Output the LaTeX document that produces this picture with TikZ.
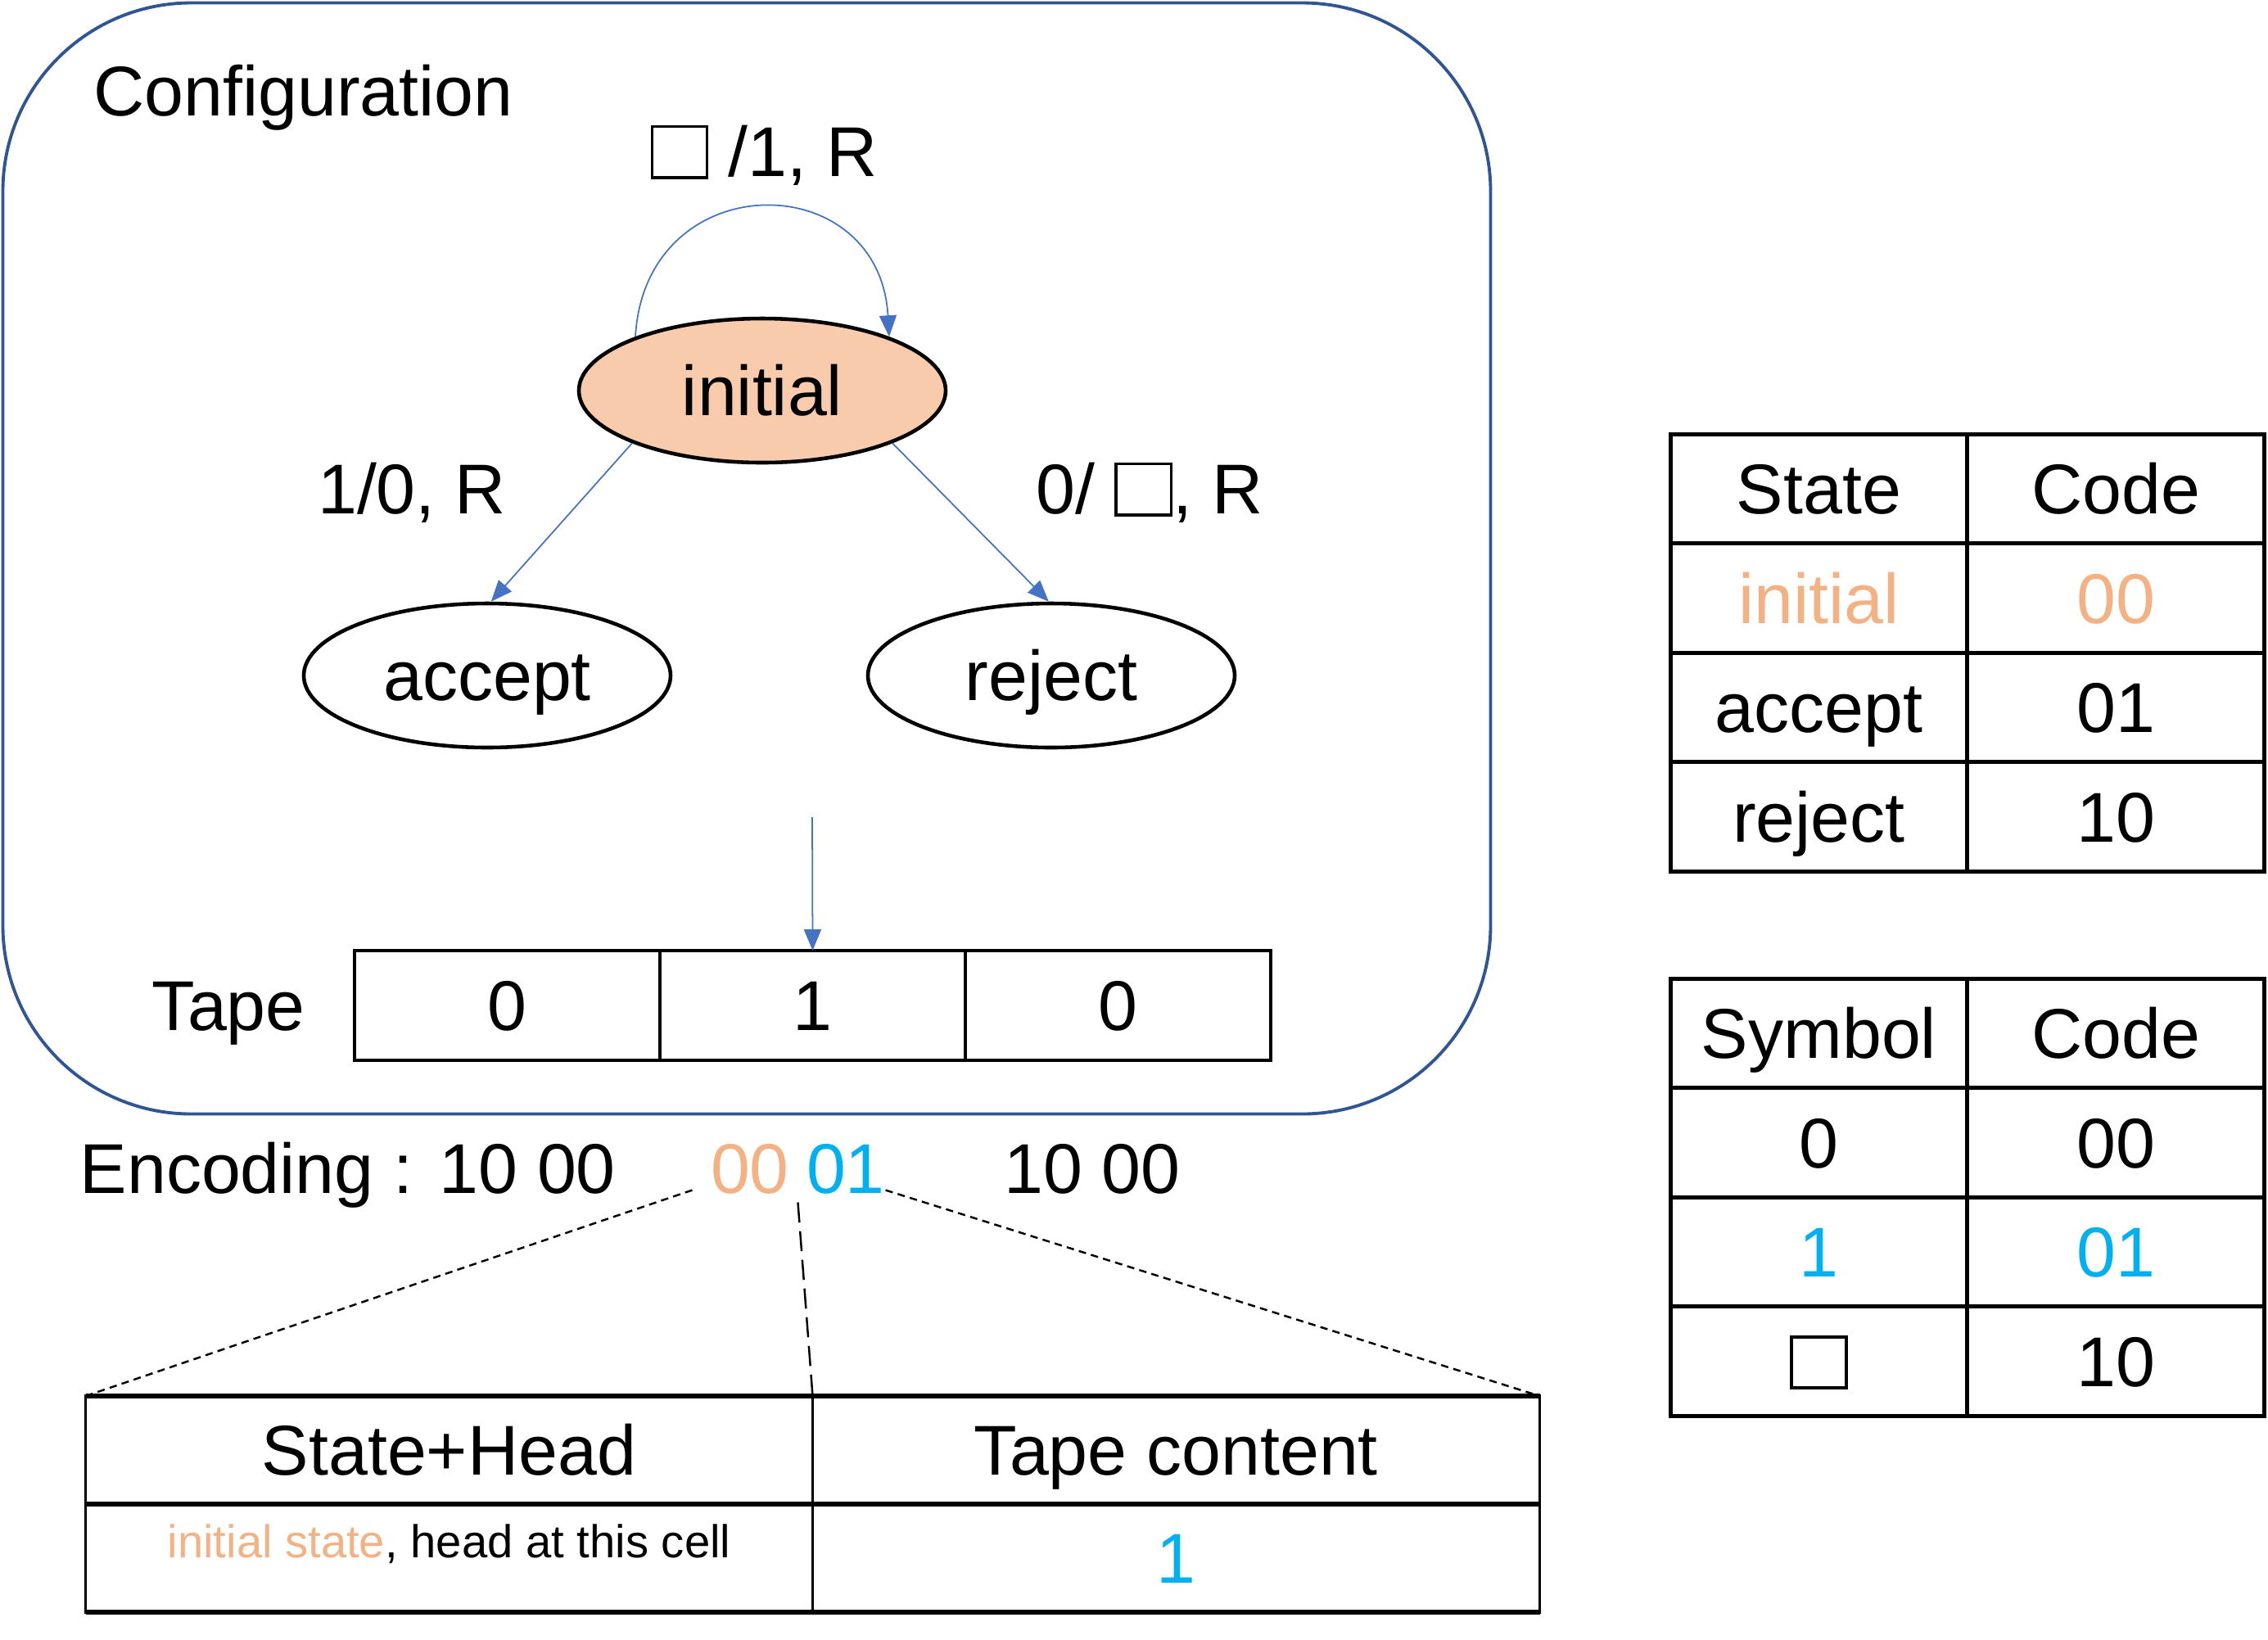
\documentclass[tikz,border=0pt]{standalone}
\usepackage{fontspec}
\setmainfont{Liberation Sans}
\usetikzlibrary{shapes.geometric, arrows.meta, positioning, calc}

\definecolor{cfgblue}{HTML}{2F5597}
\definecolor{edgeblue}{HTML}{4472C4}
\definecolor{initfill}{HTML}{F8CBAD}
\definecolor{orangetxt}{HTML}{F4B183}
\definecolor{cyantxt}{HTML}{00B0F0}

\newcommand{\bigfont}{\fontsize{24.5}{29}\selectfont}
\newcommand{\smallfont}{\fontsize{16}{19}\selectfont}
\newcommand{\blanksq}{{\setlength{\fboxsep}{0pt}\setlength{\fboxrule}{1pt}\fbox{\rule{0pt}{0.68em}\hspace{0.74em}}}}

\begin{document}
\begin{tikzpicture}[
    every node/.style={font=\bigfont},
    capline/.style={text height=17.6pt, text depth=0pt},
    config/.style={draw=cfgblue, rectangle, rounded corners=2.3cm, line width=1.1pt, minimum width=18.17cm, minimum height=13.57cm},
    state/.style={ellipse, draw, line width=1.3pt, minimum width=4.48cm, minimum height=1.76cm, inner sep=0pt, capline},
    edge/.style={draw=edgeblue, line width=0.5pt, -{Triangle[length=0.26cm, width=0.21cm, fill=edgeblue]}},
    cell/.style={rectangle, draw, line width=1.1pt, minimum width=3.73cm, minimum height=1.34cm, inner sep=0pt, outer sep=0pt, capline},
    tcell/.style={rectangle, draw, line width=1.3pt, minimum width=3.625cm, minimum height=1.335cm, inner sep=0pt, outer sep=0pt, capline},
    bcell/.style={rectangle, draw, line width=1pt, minimum width=8.88cm, minimum height=1.32cm, inner sep=0pt, outer sep=0pt, capline},
    zoomline/.style={draw, line width=0.7pt, dash pattern=on 2.6pt off 1.8pt}
]
    \useasboundingbox (0,0) rectangle (27.7,-20.02);

    % Configuration box
    \node [config] (cfg) at (9.12,-6.82) {};
    \node [anchor=base west] (cfglbl) at (1.02,-1.41) {Configuration};

    % States
    \node [state, fill=initfill] (init) at (9.31,-4.77) {initial};
    \node [state] (acc) at (5.95,-8.25) {accept};
    \node [state] (rej) at (12.84,-8.25) {reject};

    % Transitions
    \path [edge] (init.157) .. controls +(0.12,2.1) and +(-0.12,2.1) .. (init.23);
    \path [edge] (init.-158) -- (acc.87);
    \path [edge] (init.-22) -- (rej.92);
    \node [anchor=base] (loopl) at (9.33,-2.15) {\blanksq\ /1, R};
    \node [anchor=base] (accl) at (5.03,-6.27) {1/0, R};
    \node [anchor=base] (rejl) at (14.04,-6.27) {0/ \blanksq, R};

    % Tape
    \node [cell] (t1) at (6.195,-12.28) {0};
    \node [cell, right=0pt of t1] (t2) {1};
    \node [cell, right=0pt of t2] (t3) {0};
    \node [left=0.48cm of t1, capline] (tapelbl) {Tape};
    \coordinate (head) at (9.92,-9.98);
    \path [edge] (head) -- (t2.north);

    % Encoding
    \node [anchor=base west, inner sep=0pt] (enclbl) at (0.97,-14.57) {Encoding : 10 00};
    \node [anchor=base, inner sep=0pt, text=orangetxt] (enc00) at (9.16,-14.57) {00};
    \node [anchor=base, inner sep=0pt, text=cyantxt] (enc01) at (10.33,-14.57) {01};
    \node [anchor=base, inner sep=0pt] (encrest) at (13.34,-14.57) {10 00};

    % Zoomed-in cell
    \node [bcell] (shhdr) at (5.485,-17.71) {State+Head};
    \node [bcell, right=0pt of shhdr] (tchdr) {Tape content};
    \node [bcell, below=0pt of shhdr] (shval) {};
    \node [bcell, below=0pt of tchdr, text=cyantxt] (tcval) {1};
    \node [font=\smallfont, yshift=0.17cm] (shtxt) at (shval) {\textcolor{orangetxt}{initial state}, head at this cell};
    \draw [line width=1.6pt] (shhdr.north west) -- (tchdr.north east);
    \draw [line width=1.6pt] (shval.north west) -- (tcval.north east);
    \draw [line width=1.6pt] (shval.south west) -- (tcval.south east);

    \path [zoomline] ([xshift=-0.22cm, yshift=0.05cm]enc00.south west) -- (shhdr.north west);
    \path [zoomline, dash pattern=on 7pt off 3pt] ([yshift=-0.1cm]$(enc00.south east)!0.5!(enc01.south west)$) -- (shhdr.north east);
    \path [zoomline] ([yshift=0.05cm]enc01.south east) -- (tchdr.north east);

    % State code table
    \node [tcell] (sthdr) at (22.215,-5.97) {State};
    \node [tcell, right=0pt of sthdr] (stcode) {Code};
    \node [tcell, below=0pt of sthdr, text=orangetxt] (stinit) {initial};
    \node [tcell, below=0pt of stcode, text=orangetxt] (stinitc) {00};
    \node [tcell, below=0pt of stinit] (stacc) {accept};
    \node [tcell, below=0pt of stinitc] (staccc) {01};
    \node [tcell, below=0pt of stacc] (strej) {reject};
    \node [tcell, below=0pt of staccc] (strejc) {10};

    % Symbol code table
    \node [tcell] (syhdr) at (22.215,-12.62) {Symbol};
    \node [tcell, right=0pt of syhdr] (sycode) {Code};
    \node [tcell, below=0pt of syhdr] (syzero) {0};
    \node [tcell, below=0pt of sycode] (syzeroc) {00};
    \node [tcell, below=0pt of syzero, text=cyantxt] (syone) {1};
    \node [tcell, below=0pt of syzeroc, text=cyantxt] (syonec) {01};
    \node [tcell, below=0pt of syone] (syblank) {\blanksq};
    \node [tcell, below=0pt of syonec] (syblankc) {10};

\end{tikzpicture}
\end{document}
